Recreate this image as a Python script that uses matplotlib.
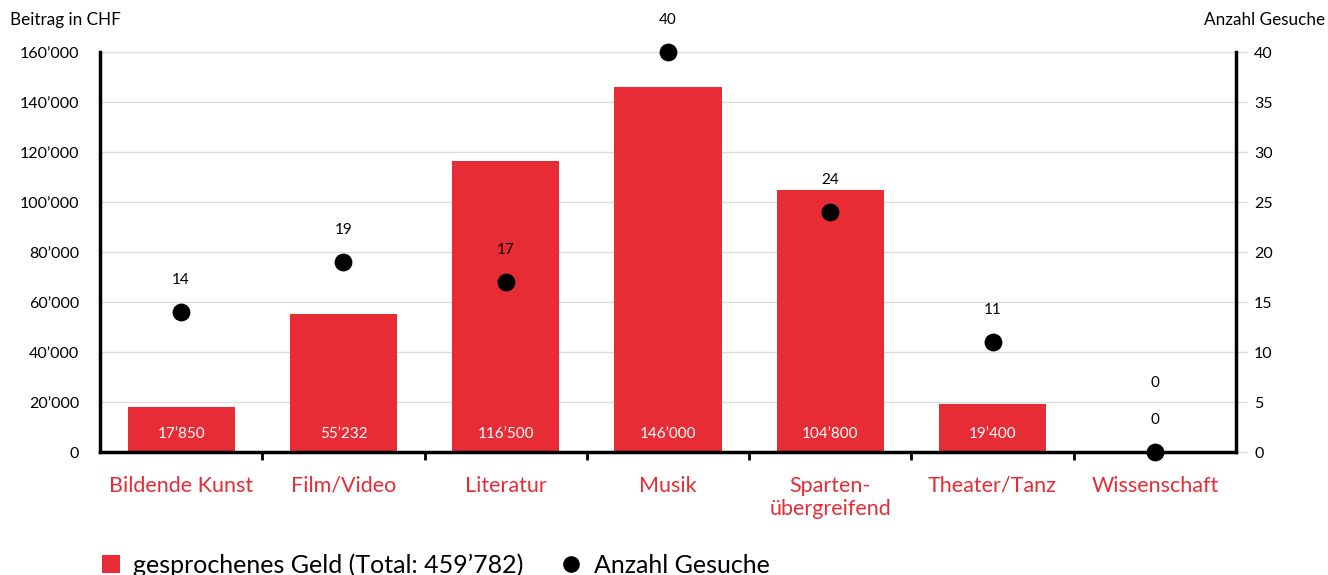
import matplotlib
matplotlib.use("Agg")
import matplotlib.pyplot as plt
from matplotlib.lines import Line2D
from matplotlib.patches import Patch
from matplotlib.ticker import FuncFormatter, FixedLocator
import numpy as np

CATEGORIES = ["Bildende Kunst", "Film/Video", "Literatur", "Musik",
              "Sparten-\nübergreifend", "Theater/Tanz", "Wissenschaft"]
BEITRAG = [17850, 55232, 116500, 146000, 104800, 19400, 0]
GESUCHE = [14, 19, 17, 40, 24, 11, 0]

RED = "#E82C36"
GRID = "#dcdcdc"

plt.rcParams.update({
    "font.family": ["Lato", "DejaVu Sans"],
    "font.size": 11,
})


def swiss(v):
    return f"{int(round(v)):,}".replace(",", "\u2019")


fig = plt.figure(figsize=(13.28, 5.75), dpi=100)
ax = fig.add_axes([100 / 1328, 1 - 452 / 575, 1136 / 1328, 400 / 575])
ax2 = ax.twinx()

x = np.arange(len(CATEGORIES))
ax.bar(x, BEITRAG, width=0.66, color=RED, zorder=2)
ax.set_xlim(-0.5, len(CATEGORIES) - 0.5)
ax.set_ylim(0, 160000)
ax.set_yticks(np.arange(0, 160001, 20000))
ax.yaxis.set_major_formatter(FuncFormatter(lambda v, p: swiss(v)))
ax.tick_params(axis="y", length=0, pad=15, labelsize=11.5)
ax.grid(axis="y", color=GRID, linewidth=1, zorder=0)
ax.set_axisbelow(True)

ax.set_xticks(x, CATEGORIES, color=RED, fontsize=15.5)
ax.tick_params(axis="x", which="major", length=0, pad=17)
ax.xaxis.set_minor_locator(FixedLocator(np.arange(0.5, len(CATEGORIES) - 1, 1)))
ax.tick_params(axis="x", which="minor", length=6, width=2, color="black")

for s in ["top"]:
    ax.spines[s].set_visible(False)
    ax2.spines[s].set_visible(False)
for s in ["left", "bottom"]:
    ax.spines[s].set_linewidth(2.5)
ax2.spines["right"].set_linewidth(2.5)
ax2.spines["left"].set_visible(False)
ax2.spines["bottom"].set_visible(False)

for xi, v in zip(x, BEITRAG):
    if v > 0:
        ax.text(xi, 7000, swiss(v), ha="center", va="center", color="white", fontsize=11, zorder=3)
    else:
        ax.text(xi, 27500, "0", ha="center", va="center", color="black", fontsize=11, zorder=3)

ax2.set_ylim(0, 40)
ax2.set_yticks(np.arange(0, 41, 5))
ax2.tick_params(axis="y", length=8, color=GRID, width=1, pad=5, labelsize=11.5)
ax2.scatter(x, GESUCHE, s=140, color="black", zorder=4, clip_on=False)
for xi, v in zip(x, GESUCHE):
    ax2.text(xi, v + 3.2, str(v), ha="center", va="center", fontsize=11, clip_on=False)

fig.text(10 / 1328, 1 - 20 / 575, "Beitrag in CHF", ha="left", va="center", fontsize=12.3)
fig.text(1325 / 1328, 1 - 20 / 575, "Anzahl Gesuche", ha="right", va="center", fontsize=12.3)

handles = [Patch(facecolor=RED, edgecolor="none"),
           Line2D([], [], marker="o", linestyle="none", color="black", markersize=11)]
labels = [f"gesprochenes Geld (Total: {swiss(sum(BEITRAG))})", "Anzahl Gesuche"]
fig.legend(handles, labels, loc="lower left", bbox_to_anchor=(79 / 1328, -0.042),
           ncol=2, frameon=False, fontsize=18, handlelength=0.72, handleheight=0.72,
           handletextpad=0.55, columnspacing=1.55)

fig.savefig("out.png", dpi=100)
